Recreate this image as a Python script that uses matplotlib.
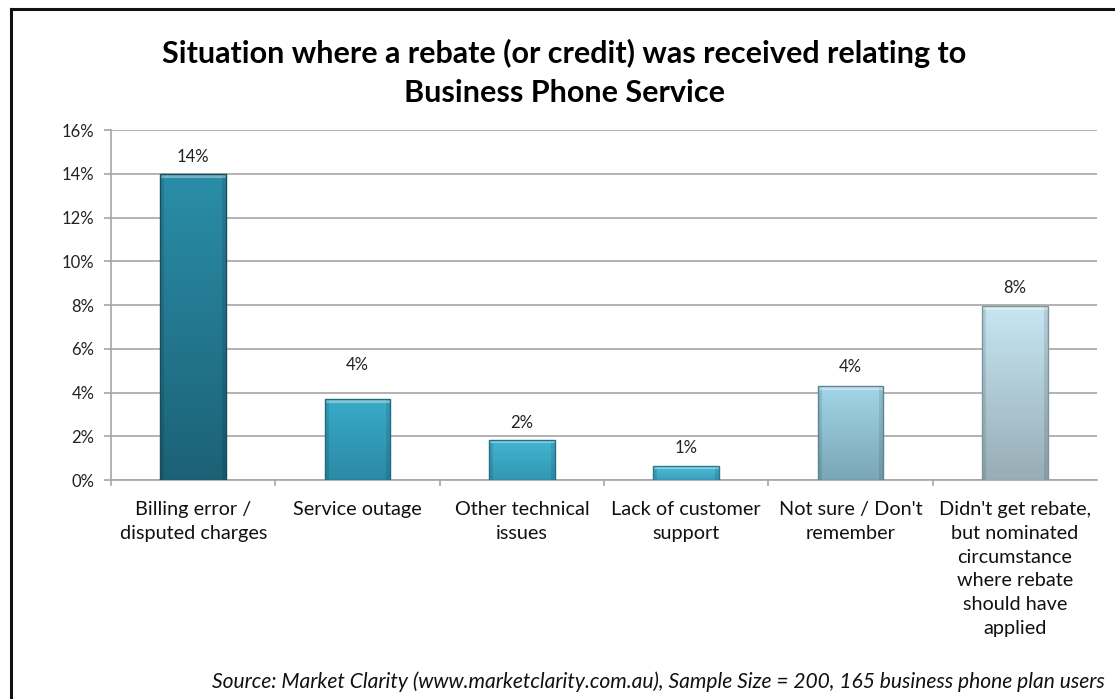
import matplotlib
matplotlib.use("Agg")
import matplotlib.pyplot as plt
import numpy as np
from matplotlib.colors import LinearSegmentedColormap
from matplotlib.patches import Rectangle
from matplotlib.lines import Line2D

categories = [
    "Billing error /\ndisputed charges",
    "Service outage",
    "Other technical\nissues",
    "Lack of customer\nsupport",
    "Not sure / Don't\nremember",
    "Didn't get rebate,\nbut nominated\ncircumstance\nwhere rebate\nshould have\napplied",
]
values = [14.0, 3.7, 1.85, 0.65, 4.3, 7.95]
yticks = [0, 2, 4, 6, 8, 10, 12, 14, 16]

title = "Situation where a rebate (or credit) was received relating to\nBusiness Phone Service"
source = ("Source: Market Clarity (www.marketclarity.com.au), "
          "Sample Size = 200, 165 business phone plan users")

# top / bottom gradient colours for each bar
top_colors = ["#2a8ea8", "#3aabc8", "#42b6d3", "#4ec0dc", "#a2d6e8", "#c6e6f2"]
bot_colors = ["#1c6176", "#2a8aa5", "#3397b3", "#3a9fbb", "#7aa6b6", "#98adb6"]
edge_colors = ["#164c5c", "#1f6a80", "#256f85", "#2a7890", "#5b8494", "#7f949c"]
label_offsets = [17, 34, 17, 18, 19, 18]

plt.rcParams["font.family"] = ["Lato", "DejaVu Sans"]

fig = plt.figure(figsize=(11.15, 6.99), dpi=100)
ax = fig.add_axes([0.0996, 0.3133, 0.8843, 0.5007])

x = np.arange(len(values))
width = 0.40
bars = ax.bar(x, values, width=width, color="none", edgecolor="none", zorder=3)

for i, patch in enumerate(bars.patches):
    x0, y0 = patch.get_x(), patch.get_y()
    w, h = patch.get_width(), patch.get_height()
    cmap = LinearSegmentedColormap.from_list(f"g{i}", [bot_colors[i], top_colors[i]])
    grad = np.linspace(0, 1, 256).reshape(-1, 1)
    im = ax.imshow(grad, cmap=cmap, origin="lower", aspect="auto",
                   extent=[x0, x0 + w, y0, y0 + h], zorder=3)
    clip = Rectangle((x0, y0), w, h, transform=ax.transData, facecolor="none")
    im.set_clip_path(clip)
    # side shading for a bevelled look
    edge_w = w * 0.06
    for sx in (x0, x0 + w - edge_w):
        ax.add_patch(Rectangle((sx, y0), edge_w, h, facecolor="black",
                               alpha=0.10, edgecolor="none", zorder=4))
    # light top bevel
    bevel_h = min(0.18, h * 0.25)
    ax.add_patch(Rectangle((x0, y0 + h - bevel_h), w, bevel_h, facecolor="white",
                           alpha=0.35, edgecolor="none", zorder=4))
    ax.add_patch(Rectangle((x0, y0), w, h, facecolor="none",
                           edgecolor=edge_colors[i], linewidth=1.0, zorder=5))
    ax.annotate(f"{values[i]:.0f}%", (x[i], values[i]), xytext=(0, label_offsets[i] * 0.72),
                textcoords="offset points", ha="center", va="center",
                fontsize=12, color="#222222", zorder=6)

ax.set_xlim(-0.5, len(values) - 0.5)
ax.set_ylim(0, 16)
ax.set_yticks(yticks)
ax.set_yticklabels([f"{t}%" for t in yticks], fontsize=12, color="#222222")
ax.yaxis.grid(True, color="#a6a6a6", linewidth=1.2, zorder=0)
ax.set_axisbelow(True)
ax.tick_params(axis="y", length=5, width=1.2, color="#a6a6a6", pad=7)

ax.set_xticks(x)
ax.set_xticklabels(categories, fontsize=14.3, color="#111111", linespacing=1.49, va="top")
ax.tick_params(axis="x", length=0, pad=15)
for b in np.arange(0.5, len(values) - 0.5, 1.0):
    ax.add_line(Line2D([b, b], [0, -0.25], color="#a6a6a6", linewidth=1.2,
                       clip_on=False, zorder=2))
ax.add_line(Line2D([-0.5, -0.5], [0, -0.25], color="#a6a6a6", linewidth=1.2,
                   clip_on=False, zorder=2))

for side in ("top", "right"):
    ax.spines[side].set_visible(False)
for side in ("left", "bottom"):
    ax.spines[side].set_color("#a6a6a6")
    ax.spines[side].set_linewidth(1.2)

fig.text(0.506, 0.896, title, ha="center", va="center", fontsize=22,
         fontweight="bold", color="#000000", linespacing=1.48)
fig.text(0.991, 0.025, source, ha="right", va="center", fontsize=15.1,
         style="italic", color="#111111")

# outer frame (open at right and bottom)
fig.add_artist(Line2D([0.0103, 0.0103], [0.0, 0.9865], transform=fig.transFigure,
                      color="#111111", linewidth=2.2))
fig.add_artist(Line2D([0.0103, 1.0], [0.9865, 0.9865], transform=fig.transFigure,
                      color="#111111", linewidth=2.2))

fig.savefig("out.png", dpi=100)
